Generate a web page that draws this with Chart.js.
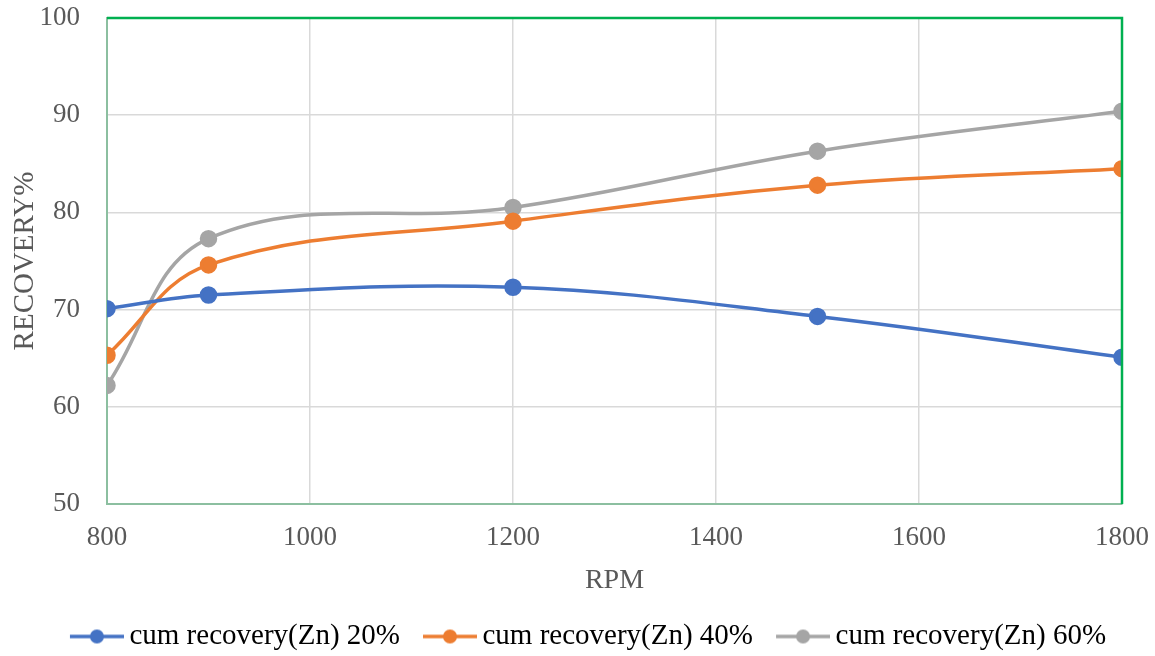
<!DOCTYPE html>
<html>
<head>
<meta charset="utf-8">
<script src="https://cdn.jsdelivr.net/npm/chart.js@4"></script>
<style>
  html, body { margin: 0; padding: 0; background: #fff; }
  #wrap { width: 1155px; height: 656px; }
</style>
</head>
<body>
<div id="wrap"><canvas id="myChart" width="1155" height="656"></canvas></div>
<script>
// data
var rpm = [800, 900, 1200, 1500, 1800];
var zn20 = [70.1, 71.5, 72.3, 69.3, 65.1];
var zn40 = [65.3, 74.6, 79.1, 82.8, 84.5];
var zn60 = [62.2, 77.3, 80.5, 86.3, 90.4];
var seriesNames = ['cum recovery(Zn) 20%', 'cum recovery(Zn) 40%', 'cum recovery(Zn) 60%'];
var colors = ['#4472c4', '#ed7d31', '#a5a5a5'];

var font = "'Liberation Serif', 'Times New Roman', serif";

// legend marker: short line with a dot (10px blank on the left for spacing)
function marker(color) {
  var c = document.createElement('canvas');
  c.width = 64; c.height = 16;
  var g = c.getContext('2d');
  g.strokeStyle = color; g.lineWidth = 3.5;
  g.beginPath(); g.moveTo(10, 8); g.lineTo(64, 8); g.stroke();
  g.fillStyle = color;
  g.beginPath(); g.arc(37, 8, 7, 0, Math.PI * 2); g.fill();
  return c;
}

function pts(arr) {
  return rpm.map(function (x, i) { return { x: x, y: arr[i] }; });
}

var frame = {
  id: 'frame',
  afterLayout: function (chart) {
    // legend sits a bit right of centre in the original
    if (chart.legend) { chart.legend.left += 24; chart.legend.right += 24; }
  },
  afterDatasetsDraw: function (chart) {
    var a = chart.chartArea, g = chart.ctx;
    g.save();
    g.strokeStyle = '#00b050';
    g.lineWidth = 2.5;
    g.beginPath();
    g.moveTo(a.left, a.top);
    g.lineTo(a.right, a.top);
    g.lineTo(a.right, a.bottom);
    g.stroke();
    g.restore();
  }
};

var data = {
  datasets: [zn20, zn40, zn60].map(function (arr, i) {
    return {
      label: seriesNames[i],
      data: pts(arr),
      borderColor: colors[i],
      backgroundColor: colors[i],
      borderWidth: 3.5,
      pointRadius: 7,
      pointHoverRadius: 7,
      pointStyle: 'circle',
      tension: 0.38,
      fill: false
    };
  })
};

var ctx = document.getElementById('myChart');
var myChart = new Chart(ctx, {
  type: 'line',
  data: data,
  plugins: [frame],
  options: {
    responsive: false,
    animation: false,
    layout: { padding: { top: 18, right: 33, left: 5, bottom: -5 } },
    plugins: {
      tooltip: { enabled: false },
      legend: {
        position: 'bottom',
        labels: {
          color: '#404040',
          font: { family: font, size: 29 },
          usePointStyle: true,
          pointStyleWidth: 46,
          boxHeight: 16,
          padding: 22,
          generateLabels: function (chart) {
            return chart.data.datasets.map(function (ds, i) {
              return {
                text: ds.label,
                pointStyle: marker(colors[i]),
                fillStyle: colors[i],
                strokeStyle: colors[i],
                lineWidth: 0,
                datasetIndex: i
              };
            });
          }
        }
      }
    },
    scales: {
      x: {
        type: 'linear',
        min: 800,
        max: 1800,
        ticks: {
          stepSize: 200, color: '#595959', font: { family: font, size: 27 }, padding: 18,
          callback: function (v) { return String(v); }
        },
        grid: { color: '#d9d9d9', lineWidth: 1.5, drawTicks: false },
        border: { color: '#8cbfa0', width: 2 },
        title: { display: true, text: 'RPM', color: '#595959', font: { family: font, size: 28 }, padding: { top: 0, bottom: 3 } },
        afterFit: function (s) { s.height = 96; s.paddingLeft = 0; s.paddingRight = 0; }
      },
      y: {
        min: 50,
        max: 100,
        ticks: {
          stepSize: 10, color: '#595959', font: { family: font, size: 27 }, padding: 27,
          callback: function (v) { return String(v); }
        },
        grid: { color: '#d9d9d9', lineWidth: 1.5, drawTicks: false },
        border: { color: '#8cbfa0', width: 2 },
        title: { display: true, text: 'RECOVERY%', color: '#595959', font: { family: font, size: 29 }, padding: 3 },
        afterFit: function (s) { s.width = 102; s.paddingTop = 0; s.paddingBottom = 0; }
      }
    }
  }
});
</script>
</body>
</html>
